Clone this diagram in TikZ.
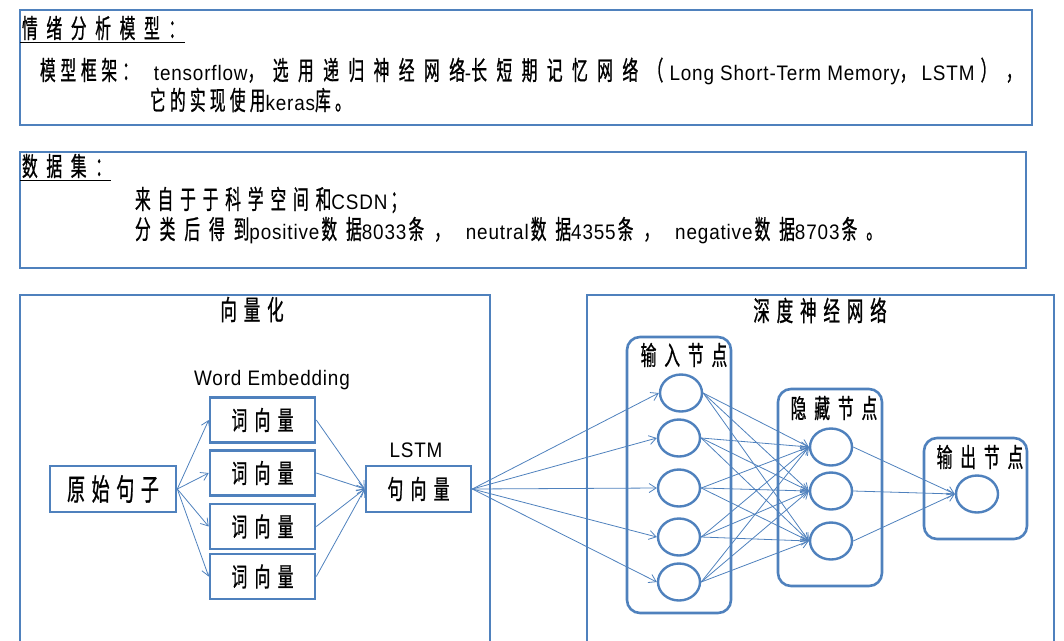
\documentclass[tikz,border=0pt]{standalone}
\usepackage{fontspec}
\setmainfont{Liberation Sans}[FakeStretch=0.9, LetterSpace=4]
\newfontfamily\cjkfont{Noto Sans CJK SC}[Scale=1.25, FakeStretch=0.6, FakeBold=0.8]
\newcommand\zhtxt[2][30]{{\cjkfont\addfontfeature{LetterSpace=#1}#2}}
\usetikzlibrary{arrows.meta,shapes.geometric}
\definecolor{ob}{RGB}{79,129,189}
\begin{document}
\begin{tikzpicture}[x=1pt,y=-1pt,
  bx/.style={draw=ob, line width=2.6pt, inner sep=0pt},
  lbl/.style={inner sep=0pt, outer sep=0pt, text=black, font=\fontsize{21}{25}\selectfont},
  hd/.style={lbl, font=\fontsize{22}{26}\selectfont},
  wbox/.style={draw=ob, line width=2.6pt, minimum width=105pt, minimum height=45pt, inner sep=0pt, font=\fontsize{21}{26}\selectfont},
  grp/.style={draw=ob, line width=2.6pt, rounded corners=13pt, inner sep=0pt},
  neuron/.style={ellipse, draw=ob, line width=2.4pt, minimum width=42pt, minimum height=37pt, inner sep=0pt},
  conn/.style={draw=ob, line width=0.8pt, -{Straight Barb[length=7pt,width=9pt]}}
]
\useasboundingbox (0,0) rectangle (1064,640);
\clip (0,0) rectangle (1064,640);

% top boxes
\node[bx, minimum width=1012pt, minimum height=115pt] (b1) at (526,67.5) {};
\node[bx, minimum width=1006pt, minimum height=116pt] (b2) at (523,210) {};

\node[lbl, anchor=base west] (t1) at (22,38) {\zhtxt[33]{情绪分析模型：}};
\draw[black, line width=0.8pt] (20,42.5) -- (185,42.5);
\node[lbl, anchor=base west] (l2) at (40,80) {\zhtxt[18]{模型框架}\hspace{5pt}\zhtxt[18]{：}\hspace{16pt}tensorflow\zhtxt[36]{，选用递归神经网络}-\zhtxt[36]{长短期记忆网络（} Long Short-Term Memory\zhtxt[36]{，} LSTM \zhtxt[36]{），}};
\node[lbl, anchor=base west] (l3) at (150,110) {\zhtxt[16]{它的实现使用}keras\zhtxt[16]{库。}};

\node[lbl, anchor=base west] (t2) at (22,176) {\zhtxt[33]{数据集：}};
\draw[black, line width=0.8pt] (20,180.5) -- (111,180.5);
\node[lbl, anchor=base west] (l4) at (135,209) {\zhtxt[26]{来自于于科学空间和}CSDN\hspace{3pt}\zhtxt[26]{；}};
\node[lbl, anchor=base west] (l5) at (135,239) {\zhtxt[34]{分类后得到}positive\hspace{2pt}\zhtxt[34]{数据}8033\hspace{2pt}\zhtxt[34]{条}\hspace{10pt}\zhtxt[34]{，}\hspace{16pt}neutral\hspace{2pt}\zhtxt[34]{数据}4355\hspace{2pt}\zhtxt[34]{条}\hspace{10pt}\zhtxt[34]{，}\hspace{16pt}negative\hspace{2pt}\zhtxt[34]{数据}8703\hspace{2pt}\zhtxt[34]{条。}};

% lower boxes
\node[bx, minimum width=470pt, minimum height=380pt] (b3) at (255,485) {};
\node[bx, minimum width=467pt, minimum height=380pt] (b4) at (820.5,485) {};

\node[hd, anchor=base] (t3) at (252,320) {\zhtxt[25]{向量化}};
\node[lbl, anchor=base] (we) at (272,385) {Word Embedding};
\node[lbl, anchor=base] (lstm) at (416,457) {LSTM};

\node[wbox, minimum width=126pt, minimum height=46pt, font=\fontsize{24}{28}\selectfont] (src) at (113,489) {\zhtxt[22]{原始句子}};
\node[wbox] (w1) at (262.5,420) {\zhtxt[28]{词向量}};
\node[wbox] (w2) at (262.5,473) {\zhtxt[28]{词向量}};
\node[wbox] (w3) at (262.5,526.5) {\zhtxt[28]{词向量}};
\node[wbox] (w4) at (262.5,576.5) {\zhtxt[28]{词向量}};
\node[wbox, minimum height=46pt] (sv) at (418.5,489) {\zhtxt[28]{句向量}};

\node[hd, anchor=base] (t4) at (820,321) {\zhtxt[25]{深度神经网络}};
\node[grp, minimum width=104pt, minimum height=276pt] (gin) at (679,475) {};
\node[grp, minimum width=104pt, minimum height=197pt] (ghid) at (830,487.5) {};
\node[grp, minimum width=103pt, minimum height=101pt] (gout) at (975.5,488.5) {};
\node[lbl, anchor=base] (lin) at (684,365) {\zhtxt[30]{输入节点}};
\node[lbl, anchor=base] (lhid) at (834,418) {\zhtxt[30]{隐藏节点}};
\node[lbl, anchor=base] (lout) at (980,467) {\zhtxt[30]{输出节点}};

\node[neuron] (i1) at (681,393) {};
\node[neuron] (i2) at (679,438) {};
\node[neuron] (i3) at (679,488) {};
\node[neuron] (i4) at (679,537) {};
\node[neuron] (i5) at (679,582) {};
\node[neuron] (h1) at (831,447) {};
\node[neuron] (h2) at (831,491) {};
\node[neuron] (h3) at (831,541) {};
\node[neuron] (o1) at (977,494) {};

\foreach \w in {w1,w2,w3,w4} {
  \draw[conn] (src.east) -- (\w.west);
  \draw[conn] (\w.east) -- (sv.west);
}
\foreach \i in {i1,i2,i3,i4,i5} {
  \draw[conn] (sv.east) -- (\i.west);
  \foreach \h in {h1,h2,h3} \draw[conn] (\i.east) -- (\h.west);
}
\foreach \h in {h1,h2,h3} \draw[conn] (\h.east) -- (o1.west);
\end{tikzpicture}
\end{document}
